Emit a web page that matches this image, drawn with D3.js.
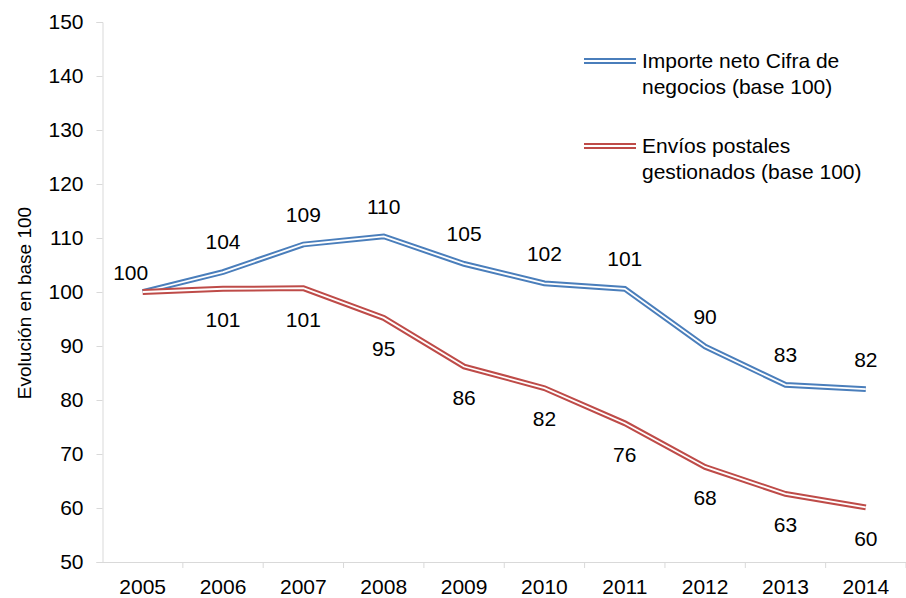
<!DOCTYPE html>
<html><head><meta charset="utf-8">
<script src="https://cdn.jsdelivr.net/npm/d3@7"></script>
<style>body{margin:0;background:#fff}text{font-family:"Liberation Sans",Arial,sans-serif;fill:#000}</style>
</head><body><svg id="c" width="906" height="598"></svg>
<script>
const years = ["2005","2006","2007","2008","2009","2010","2011","2012","2013","2014"];
const importeNeto = [100, 103.7, 108.8, 110.3, 105.2, 101.6, 100.6, 89.9, 82.8, 82.0];
const importeLabels = [100, 104, 109, 110, 105, 102, 101, 90, 83, 82];
const envios = [100, 100.6, 100.7, 95.2, 86.2, 82.2, 75.7, 67.6, 62.6, 60.1];
const enviosLabels = [100, 101, 101, 95, 86, 82, 76, 68, 63, 60];
const yTicks = [50,60,70,80,90,100,110,120,130,140,150];
const seriesNames = [["Importe neto Cifra de","negocios (base 100)"],["Envíos postales","gestionados (base 100)"]];
const colors = ["#4a7ebb","#be4b48"];
const yTitle = "Evolución en base 100";

(function(){
const svg = d3.select("#c");
const mL = 102.5, mR = 906, mT = 22, mB = 562;
const x = d3.scaleBand().domain(years).range([mL, mR]);
const y = d3.scaleLinear().domain([50,150]).range([mB, mT]);
const fs = 21;

const ya = svg.append("g").attr("transform",`translate(${mL},0)`)
  .call(d3.axisLeft(y).tickValues(yTicks).tickSize(6).tickPadding(13));
ya.select(".domain").attr("stroke","#d9d9d9");
ya.selectAll(".tick line").attr("stroke","#d9d9d9");
ya.selectAll("text").style("font-size",fs+"px").attr("fill","#000");

const xa = svg.append("g").attr("transform",`translate(0,${mB})`)
  .call(d3.axisBottom(x).tickSize(0).tickPadding(17));
xa.select(".domain").attr("stroke","#d9d9d9");
xa.selectAll(".tick line").remove();
xa.selectAll("text").style("font-size",fs+"px").attr("fill","#000");
xa.selectAll(".bt").data(years).enter().append("line")
  .attr("x1",(d,i)=>mL + x.step()*(i+1)).attr("x2",(d,i)=>mL + x.step()*(i+1))
  .attr("y1",0).attr("y2",6).attr("stroke","#d9d9d9");

svg.append("text").attr("transform",`translate(24,303) rotate(-90)`)
  .attr("text-anchor","middle").attr("dy","0.35em").style("font-size","19px").text(yTitle);

const line = d3.line().x((d,i)=>x(years[i])+x.bandwidth()/2).y(d=>y(d));
function dbl(g, path, col){
  g.append("path").attr("d",path).attr("fill","none").attr("stroke",col).attr("stroke-width",5.8).attr("stroke-linejoin","miter");
  g.append("path").attr("d",path).attr("fill","none").attr("stroke","#fff").attr("stroke-width",1.8).attr("stroke-linejoin","miter");
}
const data = [importeNeto, envios];
const labs = [importeLabels, enviosLabels];
data.forEach((s,k)=>{ dbl(svg.append("g"), line(s), colors[k]); });
data.forEach((s,k)=>{
  s.forEach((v,i)=>{
    if(k===1 && i===0) return;
    const cx = x(years[i])+x.bandwidth()/2 + (i===0 ? -12 : 0);
    const cy = y(v) + (k===0 ? (i===0 ? -19 : -30) : 31);
    svg.append("text").attr("x",cx).attr("y",cy).attr("dy","0.35em")
      .attr("text-anchor","middle").style("font-size",fs+"px").text(labs[k][i]);
  });
});
const legY = [61,146];
seriesNames.forEach((nm,k)=>{
  const g = svg.append("g");
  dbl(g, `M584,${legY[k]}H636`, colors[k]);
  nm.forEach((t,j)=>{
    g.append("text").attr("x",642).attr("y",legY[k]+j*26).attr("dy","0.35em")
      .style("font-size",fs+"px").text(t);
  });
});
})();
</script></body></html>
